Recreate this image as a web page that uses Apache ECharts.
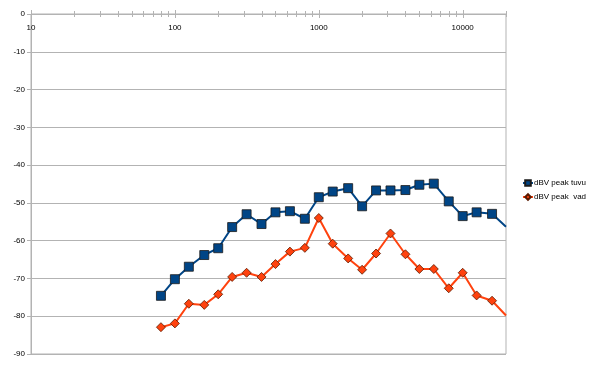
<!DOCTYPE html>
<html>
<head>
<meta charset="utf-8">
<script src="https://cdn.jsdelivr.net/npm/echarts@6/dist/echarts.min.js"></script>
<style>
html,body{margin:0;padding:0;background:#fff;}
#c{width:600px;height:375px;}
</style>
</head>
<body>
<div id="c"></div>
<script>
const freqs = [80,100,125,160,200,250,315,400,500,630,800,1000,1250,1600,2000,2500,3150,4000,5000,6300,8000,10000,12500,16000,20000];
const tuvu = [-74.6,-70.2,-66.9,-63.8,-62.0,-56.4,-53.0,-55.6,-52.5,-52.2,-54.2,-48.5,-47.0,-46.1,-50.9,-46.7,-46.7,-46.6,-45.2,-44.9,-49.6,-53.5,-52.5,-52.9,-56.3];
const vad = [-82.9,-81.9,-76.7,-77.0,-74.2,-69.6,-68.5,-69.6,-66.2,-62.9,-61.9,-54.0,-60.8,-64.7,-67.7,-63.4,-58.1,-63.6,-67.5,-67.5,-72.6,-68.5,-74.5,-75.9,-79.8];
const seriesNames = ['dBV peak tuvu', 'dBV peak  vad'];
const xTicks = [10,20,30,40,50,60,70,80,90,100,200,300,400,500,600,700,800,900,1000,2000,3000,4000,5000,6000,7000,8000,9000,10000,20000];
const xLabels = [10,100,1000,10000];

const FONT = 'Liberation Sans';
const GREY = '#b3b3b3';
const lastIdx = freqs.length - 1;
const toData = (vals) => freqs.map((f, i) => i === lastIdx ? {value: [f, vals[i]], symbol: 'none'} : [f, vals[i]]);

const chart = echarts.init(document.getElementById('c'), null, {renderer:'canvas'});
chart.setOption({
  animation: false,
  textStyle: {fontFamily: FONT},
  grid: {left: 31, right: 94, top: 14, bottom: 21, show: true, borderColor: GREY, borderWidth: 1},
  legend: {
    orient: 'vertical', left: 517, top: 174,
    itemWidth: 10, itemHeight: 7, itemGap: 6,
    data: seriesNames,
    textStyle: {fontFamily: FONT, fontSize: 8, color: '#000', padding: [0,0,0,-4]}
  },
  xAxis: {
    type: 'log', logBase: 10, min: 10, max: 20000, position: 'top',
    axisLine: {show: true, lineStyle: {color: GREY, width: 1}},
    axisTick: {show: false},
    splitLine: {show: false},
    axisLabel: {
      inside: true, margin: 10, fontSize: 8, color: '#000', fontFamily: FONT,
      formatter: v => xLabels.indexOf(Math.round(v)) >= 0 ? String(Math.round(v)) : ''
    }
  },
  yAxis: {
    type: 'value', min: -90, max: 0, interval: 10,
    axisLine: {show: true, lineStyle: {color: GREY}},
    axisTick: {show: true, length: 4, lineStyle: {color: GREY}},
    splitLine: {show: true, lineStyle: {color: GREY, width: 1}},
    axisLabel: {fontSize: 8, color: '#000', margin: 6, fontFamily: FONT}
  },
  series: [
    {
      name: seriesNames[0], type: 'line',
      data: toData(tuvu),
      symbol: 'rect', symbolSize: 9,
      lineStyle: {color: '#004586', width: 2},
      itemStyle: {color: '#004586', borderColor: '#1a1a1a', borderWidth: 0.8},
      z: 3
    },
    {
      name: seriesNames[1], type: 'line',
      data: toData(vad),
      symbol: 'diamond', symbolSize: 9,
      lineStyle: {color: '#ff420e', width: 2},
      itemStyle: {color: '#ff420e', borderColor: '#5a1a00', borderWidth: 0.8},
      z: 3
    },
    {
      name: 'ticks', type: 'custom', silent: true,
      data: xTicks.map(v => [v, 0]),
      renderItem: function (params, api) {
        const v = api.value(0);
        const p = api.coord([v, 0]);
        const lg = Math.log10(v);
        const major = Math.abs(lg - Math.round(lg)) < 1e-9;
        const h = major ? 4 : 3;
        const x = Math.round(p[0]) + 0.5;
        const y = Math.round(p[1]);
        return {type: 'line', shape: {x1: x, y1: y - h, x2: x, y2: y + h},
          style: {stroke: GREY, lineWidth: 1}};
      },
      z: 2
    }
  ]
});
</script>
</body>
</html>
